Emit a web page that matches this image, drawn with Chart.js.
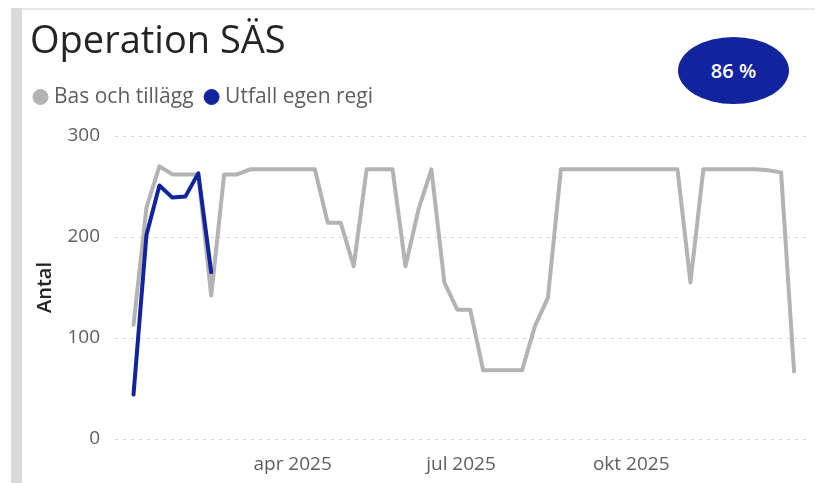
<!DOCTYPE html>
<html>
<head>
<meta charset="utf-8">
<script src="https://cdn.jsdelivr.net/npm/chart.js@4/dist/chart.umd.min.js"></script>
<style>
  html, body { margin: 0; padding: 0; background: #fff; }
  body { width: 815px; height: 483px; position: relative; overflow: hidden; font-family: 'Open Sans', sans-serif; }
  #sidebar { position: absolute; left: 11px; top: 8px; width: 11px; bottom: 0; background: #dadada; }
  #topline { position: absolute; left: 22px; top: 8px; right: 0; height: 2px; background: #e6e6e6; }
  #title { position: absolute; left: 30px; top: 19px; font-size: 38px; line-height: 38px; color: #252423; white-space: nowrap; }
  #badge { position: absolute; left: 678px; top: 37px; width: 111px; height: 67px; border-radius: 50%;
           background: #12239e; color: #fff; font-size: 20px; font-weight: 600; line-height: 67px; text-align: center; }
  #myChart { position: absolute; left: 0; top: 0; }
</style>
</head>
<body>
<div id="sidebar"></div>
<div id="topline"></div>
<canvas id="myChart" width="815" height="483"></canvas>
<div id="title">Operation SÄS</div>
<div id="badge">86 %</div>
<script>
// week dates (one point per week)
const weeks = [
    '2025-01-05', '2025-01-12', '2025-01-19', '2025-01-26',
    '2025-02-02', '2025-02-09', '2025-02-16', '2025-02-23',
    '2025-03-02', '2025-03-09', '2025-03-16', '2025-03-23', '2025-03-30',
    '2025-04-06', '2025-04-13', '2025-04-20', '2025-04-27',
    '2025-05-04', '2025-05-11', '2025-05-18', '2025-05-25',
    '2025-06-01', '2025-06-08', '2025-06-15', '2025-06-22', '2025-06-29',
    '2025-07-06', '2025-07-13', '2025-07-20', '2025-07-27',
    '2025-08-03', '2025-08-10', '2025-08-17', '2025-08-24', '2025-08-31',
    '2025-09-07', '2025-09-14', '2025-09-21', '2025-09-28',
    '2025-10-05', '2025-10-12', '2025-10-19', '2025-10-26',
    '2025-11-02', '2025-11-09', '2025-11-16', '2025-11-23', '2025-11-30',
    '2025-12-07', '2025-12-14', '2025-12-21', '2025-12-28'
];
const basValues = [
    113, 229, 270, 262, 262, 262, 142, 262, 262, 267, 267, 267, 267,
    267, 267, 214, 214, 171, 267, 267, 267, 171, 227, 267, 155, 128,
    128, 68, 68, 68, 68, 112, 140, 267, 267, 267, 267, 267, 267,
    267, 267, 267, 267, 155, 267, 267, 267, 267, 267, 266, 264, 67
];
const utfallValues = [44, 202, 251, 239, 240, 263, 165];

const tickDates = ['2025-04-01', '2025-07-01', '2025-10-01'];
const tickLabels = ['apr 2025', 'jul 2025', 'okt 2025'];
const yTicks = [0, 100, 200, 300];

const GREY = '#b3b3b3';
const BLUE = '#12239e';
const TEXT = '#605e5c';

// days since 1 jan 2025
function dayOf(s) {
    const p = s.split('-').map(Number);
    return (Date.UTC(p[0], p[1] - 1, p[2]) - Date.UTC(2025, 0, 1)) / 86400000;
}
const tickDays = tickDates.map(dayOf);

const data = {
    datasets: [
        {
            label: 'Bas och tillägg',
            data: basValues.map((v, i) => ({ x: dayOf(weeks[i]), y: v })),
            borderColor: GREY,
            backgroundColor: GREY,
            order: 1
        },
        {
            label: 'Utfall egen regi',
            data: utfallValues.map((v, i) => ({ x: dayOf(weeks[i]), y: v })),
            borderColor: BLUE,
            backgroundColor: BLUE,
            order: 0
        }
    ]
};

const config = {
    type: 'line',
    data: data,
    options: {
        responsive: false,
        animation: false,
        devicePixelRatio: 1,
        layout: {
            padding: { left: 22.5, top: 71.5, right: 8, bottom: 0 }
        },
        elements: {
            line: { borderWidth: 4, tension: 0, borderJoinStyle: 'round', borderCapStyle: 'round' },
            point: { radius: 0, hoverRadius: 0 }
        },
        plugins: {
            tooltip: { enabled: false },
            title: { display: false },
            // spacer between legend and plot area
            subtitle: {
                display: true,
                text: '',
                weight: 500,
                padding: 0,
                font: { size: 18.5, lineHeight: 1 }
            },
            legend: {
                position: 'top',
                align: 'start',
                labels: {
                    usePointStyle: true,
                    pointStyle: 'circle',
                    boxWidth: 6,
                    boxHeight: 10.6,
                    padding: 15,
                    color: TEXT,
                    font: { family: 'Open Sans', size: 21 },
                    sort: (a, b) => a.datasetIndex - b.datasetIndex
                }
            }
        },
        scales: {
            x: {
                type: 'linear',
                min: -6,
                max: 368,
                grid: { display: false },
                border: { display: false },
                afterFit: (scale) => { scale.height = 44; },
                afterBuildTicks: (scale) => { scale.ticks = tickDays.map(v => ({ value: v })); },
                ticks: {
                    autoSkip: false,
                    maxRotation: 0,
                    padding: 6,
                    color: TEXT,
                    font: { family: 'Open Sans', size: 19 },
                    callback: (value) => tickLabels[tickDays.indexOf(value)]
                }
            },
            y: {
                min: 0,
                max: 300,
                grid: {
                    color: '#d6d6d6',
                    lineWidth: 1,
                    drawTicks: false
                },
                border: { display: false, dash: [3, 5] },
                afterFit: (scale) => { scale.width = 92.5; },
                afterBuildTicks: (scale) => { scale.ticks = yTicks.map(v => ({ value: v })); },
                ticks: {
                    padding: 15,
                    color: TEXT,
                    font: { family: 'Open Sans', size: 19 }
                },
                title: {
                    display: true,
                    text: 'Antal',
                    color: '#252423',
                    padding: { top: 10.5, bottom: 0 },
                    font: { family: 'Open Sans', size: 20, weight: '600' }
                }
            }
        }
    }
};

const myChart = new Chart(
    document.getElementById('myChart'),
    config
);
</script>
</body>
</html>
